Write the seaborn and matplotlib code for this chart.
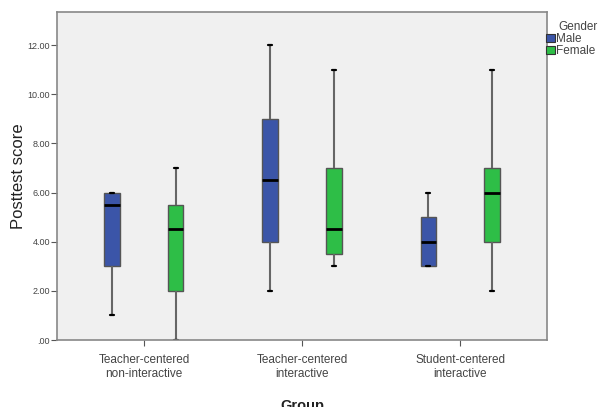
import matplotlib
matplotlib.use("Agg")
import matplotlib.pyplot as plt
import seaborn as sns
import numpy as np
import pandas as pd

# Five-number summaries: min, Q1, median, Q3, max
groups = ["Teacher-centered\nnon-interactive", "Teacher-centered\ninteractive", "Student-centered\ninteractive"]
male = [[1, 3, 5.5, 6, 6], [2, 4, 6.5, 9, 12], [3, 3, 4, 5, 6]]
female = [[0, 2, 4.5, 5.5, 7], [3, 3.5, 4.5, 7, 11], [2, 4, 6, 7, 11]]
genders = ["Male", "Female"]
palette = {"Male": "#3B55A8", "Female": "#2EBE47"}

rows = []
for g, m, f in zip(groups, male, female):
    for v in m:
        rows.append((g, "Male", v))
    for v in f:
        rows.append((g, "Female", v))
df = pd.DataFrame(rows, columns=["Group", "Gender", "Posttest score"])

sns.set_style("white")
plt.rcParams["font.family"] = ["Liberation Sans", "DejaVu Sans"]

fig = plt.figure(figsize=(6.04, 4.07), dpi=100)
ax = fig.add_axes([0.0944, 0.1646, 0.8112, 0.806])
ax.set_facecolor("#F0F0F0")

sns.boxplot(
    data=df, x="Group", y="Posttest score", hue="Gender",
    order=groups, hue_order=genders, palette=palette,
    whis=np.inf, width=0.8, gap=0.75, saturation=1, ax=ax,
    linecolor="#555555", linewidth=1.0,
    medianprops={"color": "black", "linewidth": 2},
    whiskerprops={"color": "#666666", "linewidth": 1.5},
    capprops={"color": "black", "linewidth": 1.6},
    legend=False,
)

# SPSS draws caps at half the box width
for ln in ax.lines:
    xs = np.asarray(ln.get_xdata(), dtype=float)
    ys = np.asarray(ln.get_ydata(), dtype=float)
    if len(xs) == 2 and ys[0] == ys[1] and abs(ln.get_linewidth() - 1.6) < 1e-6:
        mid = xs.mean()
        ln.set_xdata(mid + (xs - mid) * 0.5)

ax.set_xlim(-0.55, 2.55)
ax.set_ylim(0, 13.35)
ax.set_yticks(range(0, 13, 2))
ax.set_yticklabels([".00" if t == 0 else f"{t:.2f}" for t in range(0, 13, 2)],
                   fontsize=6.5, color="#444444")
ax.tick_params(axis="y", left=True, length=4, width=0.8, color="#555555", pad=1)
ax.tick_params(axis="x", bottom=True, length=4, width=0.8, color="#555555", pad=6)
for lbl in ax.get_xticklabels():
    lbl.set_fontsize(8.5)
    lbl.set_color("#444444")
for s in ax.spines.values():
    s.set_color("#888888")
    s.set_linewidth(1.2)

ax.set_ylabel("Posttest score", fontsize=12, color="#222222", labelpad=1)
ax.set_xlabel("Group", fontsize=10.5, fontweight="bold", color="#222222", labelpad=14)

# legend outside the frame, title aligned with the labels
fig.text(558 / 604, 1 - 27 / 407, "Gender", fontsize=8.5, color="#444444",
         ha="left", va="center")
handles = [plt.Rectangle((0, 0), 1, 1, facecolor=palette[g], edgecolor="#333333", linewidth=0.8)
           for g in genders]
leg = fig.legend(handles, genders, loc="upper left",
                 bbox_to_anchor=(546 / 604, 1 - 33 / 407), frameon=False, fontsize=8.5,
                 handlelength=0.75, handleheight=0.75, handletextpad=0.1,
                 labelspacing=0.0, borderaxespad=0, borderpad=0)
for t in leg.get_texts():
    t.set_color("#444444")

fig.savefig("out.png", dpi=100)
